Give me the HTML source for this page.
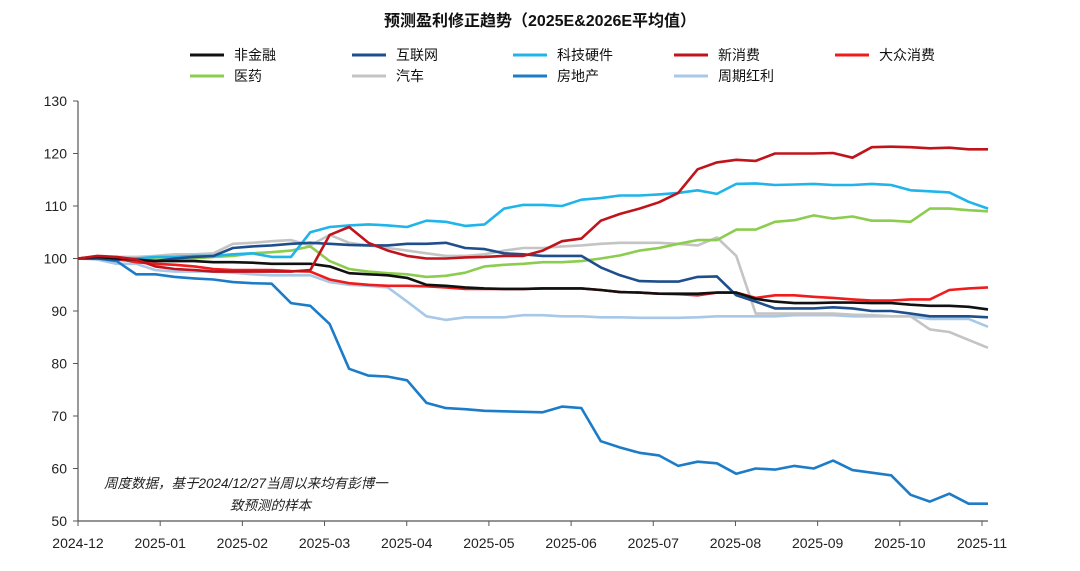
<!DOCTYPE html>
<html><head><meta charset="utf-8">
<style>
body{margin:0;background:#fff;width:1080px;height:566px;overflow:hidden;font-family:"Liberation Sans","Noto Sans CJK SC",sans-serif;}
svg text{font-family:"Liberation Sans","Noto Sans CJK SC",sans-serif;}
</style></head>
<body>
<svg id="chart" width="1080" height="566" viewBox="0 0 1080 566">
<text x="540" y="26" text-anchor="middle" font-size="16" font-weight="bold" fill="#111">预测盈利修正趋势（2025E&amp;2026E平均值）</text>
<g id="legend"></g>
<g id="axes"></g>
<g id="series"></g>
<text x="104" y="488" font-size="13.5" font-style="italic" fill="#222">周度数据，基于2024/12/27当周以来均有彭博一</text>
<text x="230" y="510" font-size="13.5" font-style="italic" fill="#222">致预测的样本</text>
</svg>
<script>
const monthLabels=["2024-12","2025-01","2025-02","2025-03","2025-04","2025-05","2025-06","2025-07","2025-08","2025-09","2025-10","2025-11"];
const yTicks=[50,60,70,80,90,100,110,120,130];
const seriesNames=["非金融","互联网","科技硬件","新消费","大众消费","医药","汽车","房地产","周期红利"];
const seriesColors=["#111111","#1f4e8c","#1fb4ea","#c0141c","#f01c1c","#8ccc4e","#c4c4c4","#1c7cc8","#a8c8e8"];
const nonFin=[100,100.3,100,99.8,99.5,99.5,99.5,99.3,99.3,99.2,99,99,99,98.5,97.2,97,96.8,96.3,95,94.8,94.5,94.3,94.2,94.2,94.3,94.3,94.3,94,93.6,93.5,93.3,93.3,93.3,93.5,93.5,92.3,91.8,91.5,91.5,91.6,91.6,91.5,91.5,91.2,91,91,90.8,90.3];
const internet=[100,100,99.8,99.5,99.5,100,100.3,100.5,102,102.3,102.5,102.8,103,102.8,102.6,102.5,102.5,102.8,102.8,103,102,101.8,101,100.8,100.5,100.5,100.5,98.3,96.8,95.7,95.6,95.6,96.5,96.6,93,91.8,90.5,90.5,90.5,90.7,90.5,90,90,89.5,89,89,89,88.8];
const techHw=[100,100,100,100,100.3,100.3,100.5,100.5,100.8,101,100.3,100.3,105,106,106.3,106.5,106.3,106,107.2,107,106.2,106.5,109.5,110.2,110.2,110,111.2,111.5,112,112,112.2,112.5,113,112.3,114.2,114.3,114,114.1,114.2,114,114,114.2,114,113,112.8,112.6,110.8,109.5];
const newCons=[100,100.5,100.3,99.8,98.5,98,97.8,97.5,97.5,97.5,97.5,97.5,97.8,104.5,106,103,101.5,100.5,100,100,100.2,100.3,100.5,100.5,101.5,103.3,103.8,107.2,108.5,109.5,110.7,112.5,117,118.3,118.8,118.6,120,120,120,120.1,119.2,121.2,121.3,121.2,121,121.1,120.8,120.8];
const massCons=[100,100.3,100,99.3,99,98.8,98.5,98,97.8,97.8,97.8,97.6,97.5,96,95.3,95,94.8,94.8,94.7,94.5,94.2,94.2,94.2,94.2,94.3,94.3,94.3,94,93.6,93.5,93.3,93.2,93,93.5,93.5,92.5,93,93,92.7,92.5,92.2,92,92,92.2,92.2,94,94.3,94.5];
const pharma=[100,100.3,100,100,99.8,99.8,100,100.3,100.5,101,101.2,101.5,102.3,99.5,98,97.5,97.2,97,96.5,96.7,97.3,98.5,98.8,99,99.3,99.3,99.5,100,100.6,101.5,102,102.8,103.5,103.5,105.5,105.5,107,107.3,108.2,107.6,108,107.2,107.2,107,109.5,109.5,109.2,109];
const auto=[100,100,100.3,100.3,100.5,100.8,100.8,101,102.8,103,103.3,103.5,102.5,104.5,103,102.5,102,101.5,101,100.5,100.5,100.8,101.5,102,102,102.3,102.5,102.8,103,103,103,102.8,102.5,104,100.5,89.5,89.5,89.5,89.5,89.5,89.3,89.2,89,89,86.5,86,84.5,83];
const realEstate=[100,100,99.5,97,97,96.5,96.2,96,95.5,95.3,95.2,91.5,91,87.5,79,77.7,77.5,76.8,72.5,71.5,71.3,71,70.9,70.8,70.7,71.8,71.5,65.2,64,63,62.5,60.5,61.3,61,59,60,59.8,60.5,60,61.5,59.7,59.2,58.7,55,53.7,55.2,53.3,53.3];
const cyclical=[100,99.8,99,99,97.8,97.5,97.5,97.5,97.3,97,96.8,96.8,96.8,95.5,95,94.8,94.5,91.8,89,88.3,88.8,88.8,88.8,89.2,89.2,89,89,88.8,88.8,88.7,88.7,88.7,88.8,89,89,89,89,89.2,89.2,89.2,89,89,89,89,88.5,88.5,88.5,87];
const drawOrder=[cyclical,auto,pharma,techHw,realEstate,internet,massCons,nonFin,newCons];
const drawIdx=[8,6,5,2,7,1,4,0,3];
const slugs=["non-financial","internet","tech-hardware","new-consumption","mass-consumption","pharma","auto","real-estate","cyclical-dividend"];

const NS="http://www.w3.org/2000/svg";
const X0=78,X1=988,Y0=521,Y1=101,N=48;
const xScale=i=>X0+i*(X1-X0)/(N-1);
const yScale=v=>Y0-(v-50)*(Y0-Y1)/80;
const xMonth=m=>X0+m*(982-X0)/11;
function mk(tag,attrs,parent){const e=document.createElementNS(NS,tag);for(const k in attrs)e.setAttribute(k,attrs[k]);parent.appendChild(e);return e;}
const axes=document.getElementById('axes');
let a=mk('line',{x1:X0,y1:Y1,x2:X0,y2:Y0,stroke:'#555','stroke-width':1.2},axes);


a=mk('line',{x1:X0,y1:Y0,x2:X1,y2:Y0,stroke:'#555','stroke-width':1.2},axes);


yTicks.forEach(v=>{
 const t=mk('line',{x1:X0-5,y1:yScale(v),x2:X0,y2:yScale(v),stroke:'#555'},axes);
 
 
 const l=mk('text',{x:67,y:yScale(v)+5,'text-anchor':'end','font-size':14,fill:'#222'},axes);
 l.textContent=v;
 
 
});
monthLabels.forEach((m,i)=>{
 const t=mk('line',{x1:xMonth(i),y1:Y0,x2:xMonth(i),y2:Y0+5,stroke:'#555'},axes);
 
 
 const l=mk('text',{x:xMonth(i),y:548,'text-anchor':'middle','font-size':14,fill:'#222'},axes);
 l.textContent=m;
 
 
});
const sg=document.getElementById('series');
drawOrder.forEach((arr,k)=>{
 const idx=drawIdx[k];
 const d=arr.map((v,i)=>(i?'L':'M')+xScale(i).toFixed(1)+' '+yScale(v).toFixed(1)).join(' ');
 const p=mk('path',{d:d,fill:'none',stroke:seriesColors[idx],'stroke-width':2.6,'stroke-linejoin':'round'},sg);
 
 
});
const lg=document.getElementById('legend');
const lx=[190,352,513,674,835];
seriesNames.forEach((n,i)=>{
 const col=i<5?i:i-5, row=i<5?0:1;
 const x=lx[col], y=row?76:55;
 const g=mk('g',{},lg);
 
 
 mk('line',{x1:x,y1:y,x2:x+34,y2:y,stroke:seriesColors[i],'stroke-width':3},g);
 const t=mk('text',{x:x+44,y:y+5,'font-size':14,fill:'#111'},g);
 t.textContent=n;
});
</script>
</body></html>
